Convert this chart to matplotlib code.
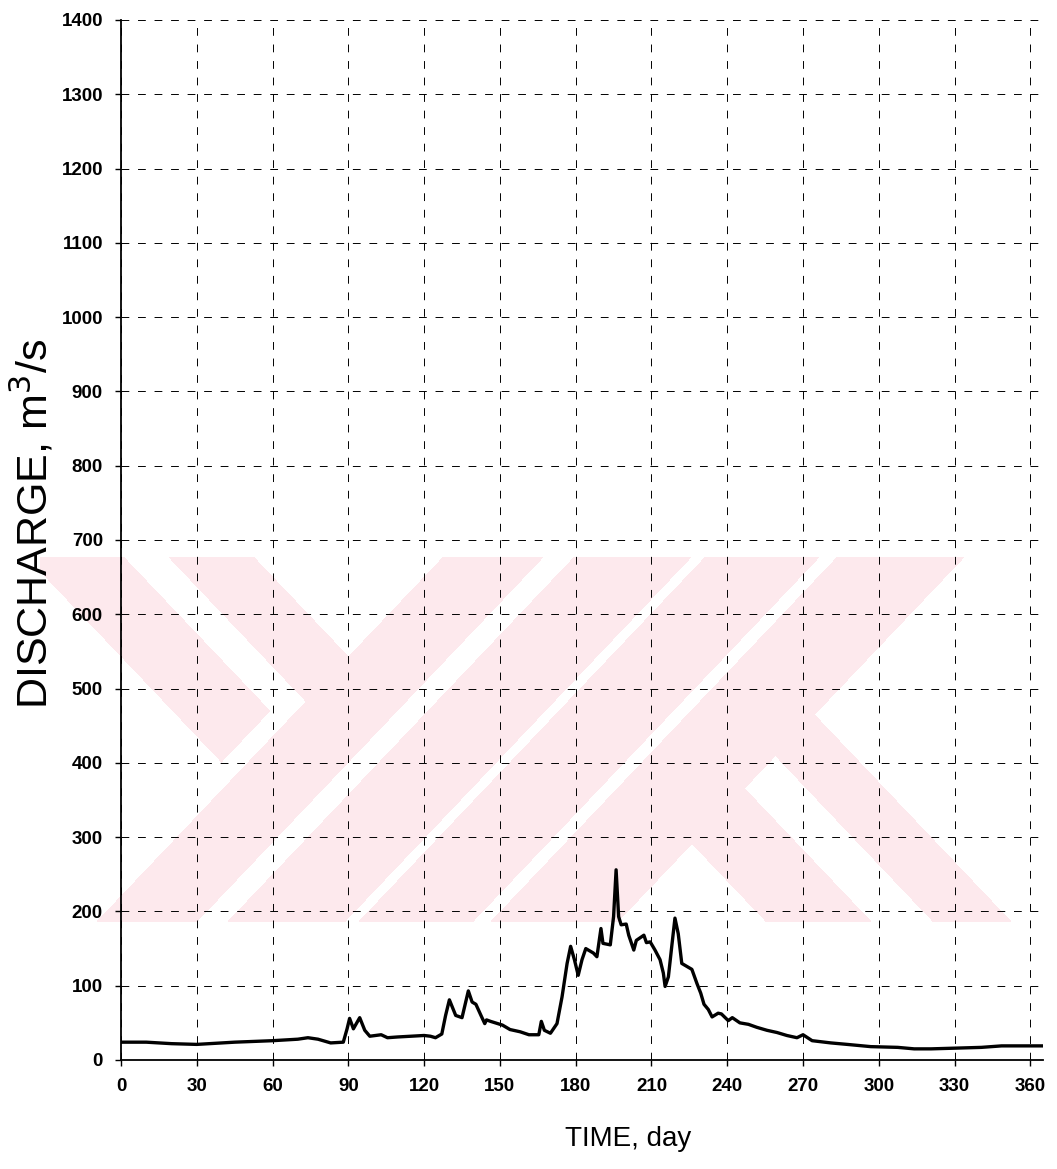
import numpy as np
import matplotlib
matplotlib.use('Agg')
import matplotlib.pyplot as plt

# Caudal diario
day = [0, 10, 20, 30, 40, 45, 60, 70, 74, 78, 83, 88, 89.5, 90.5, 92, 94.5, 96.5, 98.5,
       103, 105.5, 109.5, 120, 122.5, 124.5, 127, 128.5, 130, 132.5, 135, 137.5, 139,
       140.5, 142.5, 144, 144.7, 146.3, 151, 154, 158, 161.5, 165.4, 166.4, 167.6, 170,
       172.6, 174.6, 176.6, 178, 179.5, 181, 182.5, 184, 187, 188.4, 190, 190.8, 193.7,
       195, 196, 197, 198, 200, 201, 203, 204, 207, 208, 209.5, 211.4, 213.4, 214.7,
       215.4, 216.7, 218, 219.3, 220.6, 222, 224, 226, 228, 229.5, 230.8, 232.5, 234,
       236.4, 237.7, 240.4, 242, 245, 248.4, 251.7, 255.7, 259.7, 263.6, 267.6, 270,
       273.6, 281, 287.5, 296.8, 307.5, 314, 320.7, 330.7, 340.6, 348.6, 360.6, 365]
discharge = [24, 24, 22, 21, 23, 24, 26, 28, 30, 28, 23, 24, 42, 56, 42, 57, 40, 32,
             34, 30, 31, 33, 32, 30, 35, 60, 81, 60, 57, 93, 78,
             75, 60, 49, 54, 52, 47, 41, 38, 34, 34, 52, 40, 36,
             49, 85, 130, 153, 135, 114, 135, 150, 144, 139, 177, 157, 155,
             193, 256, 193, 182, 183, 168, 148, 161, 168, 158, 159, 148, 135, 117,
             99, 112, 152, 191, 170, 130, 126, 122, 103, 90, 75, 68, 58,
             63, 62, 53, 57, 50, 48, 44, 40, 37, 33, 30, 34,
             26, 23, 21, 18, 17, 15, 15, 16, 17, 19, 19, 19]

x_ticks = list(range(0, 361, 30))
y_ticks = list(range(0, 1401, 100))

plt.rcParams['font.family'] = ['Liberation Sans', 'DejaVu Sans']

W, H = 1057, 1169
fig = plt.figure(figsize=(W / 100, H / 100), dpi=100)

# Marca de agua rosa (bandas diagonales) en coordenadas de pixel
yy, xx = np.mgrid[0:H, 0:W]
s = xx + 0.95 * yy
d = xx - 0.95 * yy
mask = np.zeros((H, W), dtype=bool)
for lo, hi in [(971, 1072), (1102, 1220), (1233, 1348), (1365, 1493)]:
    mask |= (s >= lo) & (s <= hi)
mask |= (d >= -503) & (d <= -405) & (s < 945)
mask |= (d >= -361) & (d <= -275) & (s < 1072)
mask |= (d >= 57) & (d <= 136) & (s > 1493)
mask |= (d >= -110) & (d <= -4) & (s > 1493)
mask &= (xx >= 40) & (xx <= 1030) & (yy >= 557) & (yy <= 921)
img = np.ones((H, W, 3))
img[mask] = np.array([253, 233, 237]) / 255.0

bg = fig.add_axes([0, 0, 1, 1], zorder=0)
bg.imshow(img, extent=(0, W, H, 0), interpolation='nearest', aspect='auto')
bg.axis('off')

ax = fig.add_axes([121 / W, 109 / H, 922 / W, 1040 / H], zorder=1)
ax.patch.set_alpha(0)

ax.plot(day, discharge, color='black', linewidth=2.4, zorder=3)

ax.set_xlim(0, 365)
ax.set_ylim(0, 1400)
ax.set_xticks(x_ticks)
ax.set_yticks(y_ticks)
ax.grid(True, color='black', linestyle=(0, (8, 9)), linewidth=0.7)

for side in ['top', 'right']:
    ax.spines[side].set_visible(False)
for side in ['left', 'bottom']:
    ax.spines[side].set_linewidth(1.3)

ax.tick_params(axis='both', direction='out', length=4, width=1, labelsize=13.5, pad=9)
for lab in ax.get_xticklabels() + ax.get_yticklabels():
    lab.set_fontweight('bold')

ax.set_xlabel('TIME, day', fontsize=20)
ax.set_ylabel('DISCHARGE, m$^3$/s', fontsize=31)
ax.xaxis.set_label_coords(0.55, -0.063)
ax.yaxis.set_label_coords(-0.070, 0.515)

fig.savefig('out.png', dpi=100)
